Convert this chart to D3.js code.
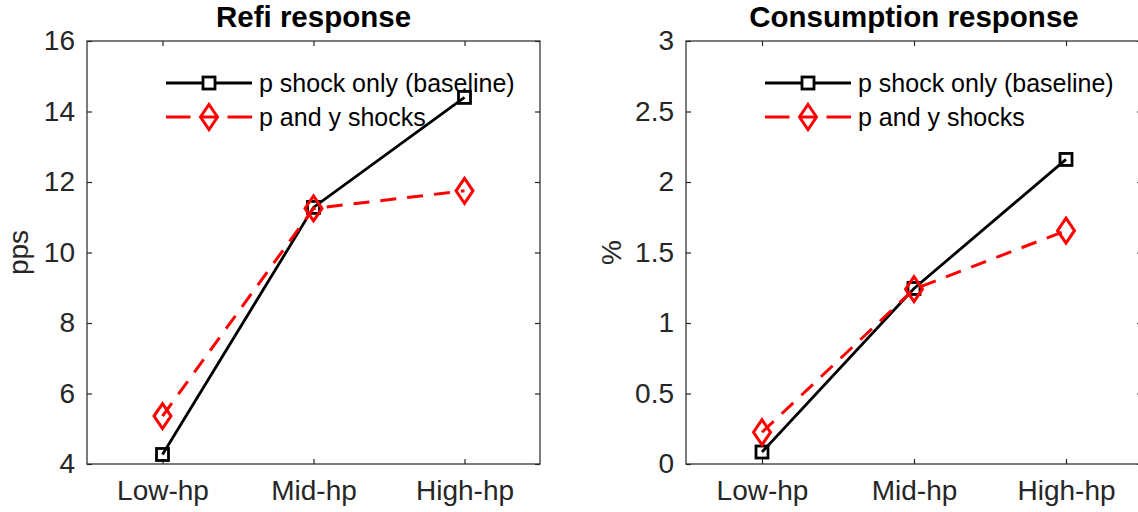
<!DOCTYPE html>
<html>
<head>
<meta charset="utf-8">
<script src="https://cdn.jsdelivr.net/npm/d3@7"></script>
<style>
  html, body { margin: 0; padding: 0; background: #fff; }
  svg { display: block; font-family: "Liberation Sans", Arial, Helvetica, sans-serif; }
</style>
</head>
<body>
<svg id="chart" width="1138" height="512"></svg>
<script>
// Data
const categories = ["Low-hp", "Mid-hp", "High-hp"];
const seriesNames = ["p shock only (baseline)", "p and y shocks"];
const refiBaseline = [4.27, 11.28, 14.40];
const refiPY = [5.36, 11.25, 11.75];
const consBaseline = [0.085, 1.245, 2.16];
const consPY = [0.225, 1.24, 1.655];
const refiTicks = [4, 6, 8, 10, 12, 14, 16];
const consTicks = [0, 0.5, 1, 1.5, 2, 2.5, 3];

const svg = d3.select("#chart");
const axisColor = "#262626";
const tickFont = 28;

function drawPanel(opts) {
  const { left, right, top, bottom, yDomain, yTicks, title, yLabel, yLabelX, baseline, py } = opts;
  const g = svg.append("g");

  const x = d3.scalePoint().domain(categories).range([left, right]).padding(0.5);
  const y = d3.scaleLinear().domain(yDomain).range([bottom, top]);

  // box
  g.append("rect")
    .attr("x", left).attr("y", top)
    .attr("width", right - left).attr("height", bottom - top)
    .attr("fill", "none").attr("stroke", axisColor).attr("stroke-width", 1.2);

  const fmt = d => String(d);

  // axes with inward ticks
  const yl = g.append("g").attr("transform", `translate(${left},0)`)
    .call(d3.axisLeft(y).tickValues(yTicks).tickFormat(fmt).tickSizeInner(-5).tickSizeOuter(0).tickPadding(12));
  const yr = g.append("g").attr("transform", `translate(${right},0)`)
    .call(d3.axisRight(y).tickValues(yTicks).tickFormat("").tickSizeInner(-5).tickSizeOuter(0));
  const xb = g.append("g").attr("transform", `translate(0,${bottom})`)
    .call(d3.axisBottom(x).tickSizeInner(-5).tickSizeOuter(0).tickPadding(16.5));
  const xt = g.append("g").attr("transform", `translate(0,${top})`)
    .call(d3.axisTop(x).tickFormat("").tickSizeInner(-5).tickSizeOuter(0));

  [yl, yr, xb, xt].forEach(a => {
    a.select(".domain").remove();
    a.selectAll(".tick line").attr("stroke", axisColor).attr("stroke-width", 1.2);
    a.selectAll(".tick text").attr("fill", axisColor).attr("font-size", tickFont)
      .attr("font-family", "Liberation Sans, Arial, sans-serif");
  });
  xb.selectAll(".tick text").attr("dy", "0.71em");

  // title
  g.append("text")
    .attr("x", (left + right) / 2).attr("y", 27)
    .attr("text-anchor", "middle")
    .attr("font-size", 29.5).attr("font-weight", "bold").attr("fill", "#000")
    .text(title);

  // y label
  g.append("text")
    .attr("transform", `translate(${yLabelX},${(top + bottom) / 2}) rotate(-90)`)
    .attr("text-anchor", "middle")
    .attr("font-size", tickFont).attr("fill", axisColor)
    .text(yLabel);

  const line = d3.line().x((d, i) => x(categories[i])).y(d => y(d));

  const sq = 12;
  const dw = 8.5, dh = 12.5;
  const diamond = (cx, cy) => `M${cx},${cy - dh}L${cx + dw},${cy}L${cx},${cy + dh}L${cx - dw},${cy}Z`;

  // baseline series: solid black with squares
  g.append("path").datum(baseline).attr("d", line)
    .attr("fill", "none").attr("stroke", "#000").attr("stroke-width", 2.8);
  g.selectAll(".sq").data(baseline).enter().append("rect")
    .attr("x", (d, i) => x(categories[i]) - sq / 2)
    .attr("y", d => y(d) - sq / 2)
    .attr("width", sq).attr("height", sq)
    .attr("fill", "none").attr("stroke", "#000").attr("stroke-width", 2.8);

  // p and y shocks: dashed red with diamonds
  g.append("path").datum(py).attr("d", line)
    .attr("fill", "none").attr("stroke", "#ff0000").attr("stroke-width", 3)
    .attr("stroke-dasharray", "16,11");
  g.selectAll(".dm").data(py).enter().append("path")
    .attr("d", (d, i) => diamond(x(categories[i]), y(d)))
    .attr("fill", "none").attr("stroke", "#ff0000").attr("stroke-width", 3);

  // legend
  const lx0 = left + 79, lx1 = left + 165, lm = (lx0 + lx1) / 2, tx = left + 172;
  const ly1 = 83, ly2 = 117;
  g.append("line").attr("x1", lx0).attr("x2", lx1).attr("y1", ly1).attr("y2", ly1)
    .attr("stroke", "#000").attr("stroke-width", 2.8);
  g.append("rect").attr("x", lm - sq / 2).attr("y", ly1 - sq / 2).attr("width", sq).attr("height", sq)
    .attr("fill", "#fff").attr("stroke", "#000").attr("stroke-width", 2.8);
  g.append("line").attr("x1", lx0).attr("x2", lm - dw - 10).attr("y1", ly2).attr("y2", ly2)
    .attr("stroke", "#ff0000").attr("stroke-width", 3);
  g.append("line").attr("x1", lm + dw + 10).attr("x2", lx1).attr("y1", ly2).attr("y2", ly2)
    .attr("stroke", "#ff0000").attr("stroke-width", 3);
  g.append("line").attr("x1", lm - dw).attr("x2", lm + dw).attr("y1", ly2).attr("y2", ly2)
    .attr("stroke", "#ff0000").attr("stroke-width", 3);
  g.append("path").attr("d", diamond(lm, ly2))
    .attr("fill", "none").attr("stroke", "#ff0000").attr("stroke-width", 3);
  g.append("text").attr("x", tx).attr("y", ly1).attr("dy", "0.35em")
    .attr("font-size", 25).attr("fill", "#000").text(seriesNames[0]);
  g.append("text").attr("x", tx).attr("y", ly2).attr("dy", "0.35em")
    .attr("font-size", 25).attr("fill", "#000").text(seriesNames[1]);
}

drawPanel({
  left: 87, right: 540, top: 41, bottom: 464,
  yDomain: [4, 16], yTicks: refiTicks,
  title: "Refi response", yLabel: "pps", yLabelX: 28,
  baseline: refiBaseline, py: refiPY
});

drawPanel({
  left: 686, right: 1142, top: 41, bottom: 464,
  yDomain: [0, 3], yTicks: consTicks,
  title: "Consumption response", yLabel: "%", yLabelX: 621,
  baseline: consBaseline, py: consPY
});
</script>
</body>
</html>
